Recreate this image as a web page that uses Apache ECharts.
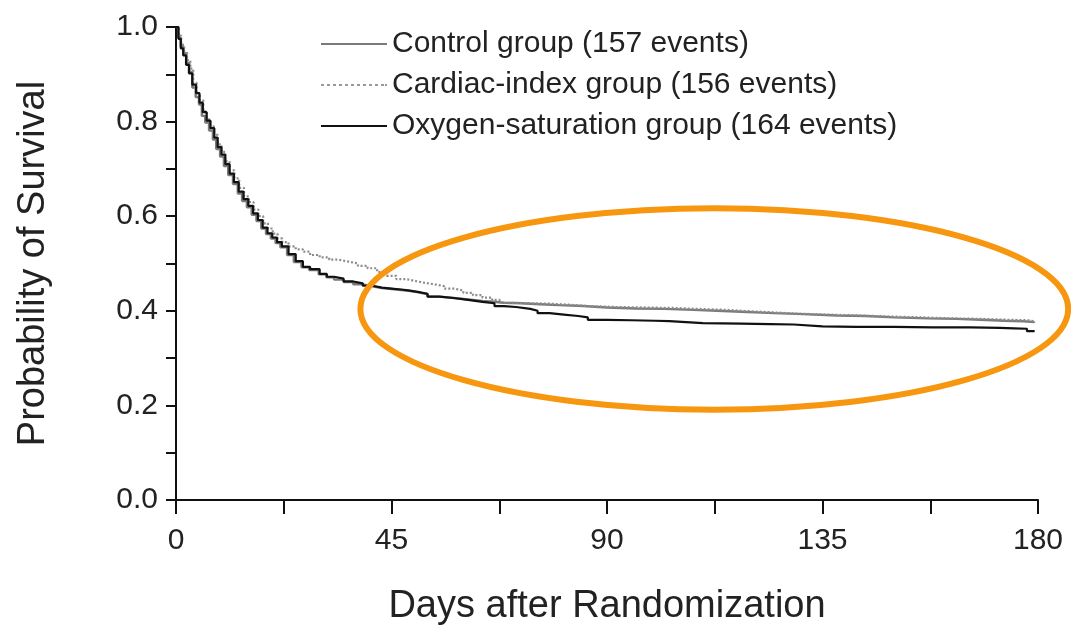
<!DOCTYPE html>
<html>
<head>
<meta charset="utf-8">
<script src="https://cdn.jsdelivr.net/npm/echarts@6/dist/echarts.min.js"></script>
<style>
  html, body { margin: 0; padding: 0; background: #fff; }
  #chart { width: 1071px; height: 627px; }
</style>
</head>
<body>
<div id="chart"></div>
<script>
// ---- data ----
const seriesNames = [
  'Control group (157 events)',
  'Cardiac-index group (156 events)',
  'Oxygen-saturation group (164 events)'
];
const xTicks = [0, 45, 90, 135, 180];
const yTicks = [0.0, 0.2, 0.4, 0.6, 0.8, 1.0];

const controlDays = [0, 0.5, 1, 1.6, 2.2, 2.8, 3.4, 4.1, 4.8, 5.4, 6.1, 6.9, 7.7, 8.4, 9.2, 10, 10.9, 11.9, 12.9, 13.8, 14.8, 15.8, 16.8, 17.8, 18.8, 19.8, 20.8, 21.8, 23.2, 24.6, 26.2, 27.8, 29.8, 31.4, 33, 35, 37, 39, 41, 43, 45, 47, 48.6, 50.6, 52.6, 55, 58, 61, 64, 66.4, 68.5, 72, 76, 80, 85, 90, 96, 102, 108, 113, 118, 125, 131, 138, 144, 150, 157, 163, 168, 173, 177, 179.3];
const controlSurv = [1.0, 0.978, 0.958, 0.944, 0.924, 0.905, 0.872, 0.852, 0.836, 0.812, 0.798, 0.781, 0.762, 0.742, 0.726, 0.706, 0.687, 0.668, 0.648, 0.632, 0.619, 0.603, 0.59, 0.574, 0.562, 0.553, 0.543, 0.534, 0.518, 0.503, 0.492, 0.486, 0.477, 0.471, 0.466, 0.461, 0.456, 0.452, 0.448, 0.446, 0.444, 0.442, 0.439, 0.435, 0.43, 0.427, 0.424, 0.421, 0.419, 0.417, 0.416, 0.414, 0.412, 0.41, 0.407, 0.405, 0.404, 0.402, 0.4, 0.398, 0.395, 0.393, 0.39, 0.389, 0.386, 0.384, 0.383, 0.381, 0.379, 0.378, 0.376, 0.376];

const cardiacDays = [0, 0.6, 1.1, 1.7, 2.3, 3.0, 3.6, 4.3, 5.0, 5.7, 6.4, 7.1, 7.9, 8.7, 9.5, 10.3, 11.2, 12.2, 13.2, 14.2, 15.2, 16.2, 17.2, 18.2, 19.2, 20.2, 21.2, 22.2, 23.5, 25, 26.5, 28, 30, 32, 34, 36, 38, 40, 42, 44, 46, 48, 50, 52, 54, 56, 58, 60, 62, 64, 66, 67.6, 70, 74, 78, 82, 86, 92, 98, 104, 109, 115, 120, 126, 130, 136, 143, 149, 156, 162, 168, 174, 178, 179.3];
const cardiacSurv = [1.0, 0.982, 0.962, 0.948, 0.93, 0.912, 0.882, 0.86, 0.845, 0.822, 0.805, 0.79, 0.772, 0.752, 0.736, 0.716, 0.697, 0.68, 0.66, 0.642, 0.63, 0.614, 0.6, 0.585, 0.574, 0.563, 0.553, 0.545, 0.536, 0.53, 0.525, 0.518, 0.513, 0.508, 0.504, 0.5, 0.495, 0.49, 0.482, 0.474, 0.467, 0.463, 0.459, 0.456, 0.452, 0.447, 0.443, 0.438, 0.433, 0.428, 0.423, 0.417, 0.416, 0.415, 0.413, 0.41, 0.408, 0.407, 0.406, 0.404, 0.402, 0.399, 0.396, 0.394, 0.392, 0.39, 0.388, 0.386, 0.384, 0.383, 0.381, 0.38, 0.378, 0.376];

const oxygenDays = [0, 0.5, 1, 1.5, 2.1, 2.7, 3.4, 4.2, 4.9, 5.6, 6.4, 7.2, 8.0, 8.7, 9.5, 10.3, 11.2, 12.1, 13.1, 14.1, 15.1, 16.1, 17.1, 18.1, 19.1, 20.1, 21.1, 22.1, 23.5, 25, 26.5, 28, 30, 31.5, 33, 35, 37, 39, 41, 43, 45, 47, 48.5, 50.5, 52.5, 55, 58, 61, 64, 66.5, 68.5, 71, 74, 75.5, 78, 81, 84, 86, 90, 95, 100, 103, 110, 118, 124, 129, 135, 142, 150, 158, 166, 172, 175, 177.7, 179.3];
const oxygenSurv = [1.0, 0.975, 0.955, 0.94, 0.92, 0.902, 0.878, 0.86, 0.84, 0.82, 0.802, 0.786, 0.766, 0.746, 0.73, 0.71, 0.69, 0.672, 0.652, 0.636, 0.622, 0.606, 0.592, 0.576, 0.564, 0.555, 0.545, 0.536, 0.52, 0.505, 0.493, 0.488, 0.478, 0.472, 0.468, 0.462, 0.458, 0.453, 0.449, 0.447, 0.445, 0.443, 0.44, 0.436, 0.43, 0.427, 0.423, 0.419, 0.416, 0.41, 0.408, 0.404, 0.4, 0.395, 0.392, 0.389, 0.386, 0.381, 0.38, 0.379, 0.378, 0.374, 0.373, 0.372, 0.371, 0.367, 0.366, 0.366, 0.365, 0.365, 0.364, 0.363, 0.362, 0.357, 0.357];

// annotation ellipse in data units: center day, center probability, half-width (days), half-height (prob)
const ellipseData = { day: 112.4, prob: 0.404, halfDays: 73.9, halfProb: 0.213 };

function pairs(xs, ys) { return xs.map((x, i) => [x, ys[i]]); }

const FONT = '"Liberation Sans", Arial, Helvetica, sans-serif';
const colors = ['#7a7a7a', '#8c8c8c', '#111111'];
// legend icons: solid bar, dotted bar, solid bar
const solidIcon = 'path://M0,0 L66,0 L66,2 L0,2 Z';
const dottedIcon = 'path://M0,0h3v2h-3zM6,0h3v2h-3zM12,0h3v2h-3zM18,0h3v2h-3zM24,0h3v2h-3zM30,0h3v2h-3zM36,0h3v2h-3zM42,0h3v2h-3zM48,0h3v2h-3zM54,0h3v2h-3zM60,0h3v2h-3zM64,0h2v2h-2z';

const chart = echarts.init(document.getElementById('chart'), null, { renderer: 'canvas' });

const option = {
  animation: false,
  backgroundColor: '#ffffff',
  textStyle: { fontFamily: FONT },
  grid: { left: 176, right: 33, top: 27, bottom: 127, containLabel: false, outerBoundsMode: 'none' },
  legend: {
    orient: 'vertical',
    left: 316,
    top: 24,
    itemWidth: 66,
    itemHeight: 2.5,
    itemGap: 11,
    textStyle: { fontSize: 30, color: '#222', fontFamily: FONT },
    data: [
      { name: seriesNames[0], icon: solidIcon, itemStyle: { color: colors[0] } },
      { name: seriesNames[1], icon: dottedIcon, itemStyle: { color: '#999' } },
      { name: seriesNames[2], icon: solidIcon, itemStyle: { color: colors[2] } }
    ]
  },
  xAxis: {
    type: 'value',
    min: 0, max: 180, interval: 45,
    name: 'Days after Randomization',
    nameLocation: 'middle',
    nameGap: 88,
    nameTextStyle: { fontSize: 38, color: '#222', fontFamily: FONT },
    axisLine: { lineStyle: { color: '#111', width: 2 } },
    axisTick: { show: true, length: 14, lineStyle: { color: '#111', width: 2 } },
    minorTick: { show: true, splitNumber: 2, length: 14, lineStyle: { color: '#111', width: 2 } },
    axisLabel: { fontSize: 30, color: '#222', margin: 26, fontFamily: FONT,
      formatter: v => xTicks.includes(v) ? String(v) : '' },
    splitLine: { show: false }
  },
  yAxis: {
    type: 'value',
    min: 0, max: 1, interval: 0.2,
    name: 'Probability of Survival',
    nameLocation: 'middle',
    nameRotate: 90,
    nameGap: 123,
    nameTextStyle: { fontSize: 38, color: '#222', fontFamily: FONT },
    axisLine: { show: true, lineStyle: { color: '#111', width: 2 } },
    axisTick: { show: true, length: 10, lineStyle: { color: '#111', width: 2 } },
    minorTick: { show: true, splitNumber: 2, length: 10, lineStyle: { color: '#111', width: 2 } },
    axisLabel: { fontSize: 30, color: '#222', margin: 18, fontFamily: FONT,
      formatter: v => {
        const t = yTicks.find(y => Math.abs(y - v) < 1e-6);
        return t === undefined ? '' : t.toFixed(1);
      } },
    splitLine: { show: false }
  },
  series: [
    {
      name: seriesNames[0], type: 'line', step: 'end', symbol: 'none', showSymbol: false,
      lineStyle: { color: colors[0], width: 2.4 }, itemStyle: { color: colors[0] },
      data: pairs(controlDays, controlSurv), z: 3
    },
    {
      name: seriesNames[1], type: 'line', step: 'end', symbol: 'none', showSymbol: false,
      lineStyle: { color: colors[1], width: 2.2, type: [2, 2] }, itemStyle: { color: colors[1] },
      data: pairs(cardiacDays, cardiacSurv), z: 4
    },
    {
      name: seriesNames[2], type: 'line', step: 'end', symbol: 'none', showSymbol: false,
      lineStyle: { color: colors[2], width: 2.2 }, itemStyle: { color: colors[2] },
      data: pairs(oxygenDays, oxygenSurv), z: 5
    }
  ]
};
chart.setOption(option);

// orange annotation ellipse positioned through the axes
const c = chart.convertToPixel({ gridIndex: 0 }, [ellipseData.day, ellipseData.prob]);
const e = chart.convertToPixel({ gridIndex: 0 }, [ellipseData.day + ellipseData.halfDays, ellipseData.prob + ellipseData.halfProb]);
chart.setOption({
  graphic: [{
    type: 'ellipse',
    shape: { cx: c[0], cy: c[1], rx: Math.abs(e[0] - c[0]), ry: Math.abs(c[1] - e[1]) },
    style: { fill: 'none', stroke: '#F7960F', lineWidth: 6 },
    z: 100, silent: true
  }]
});
</script>
</body>
</html>
